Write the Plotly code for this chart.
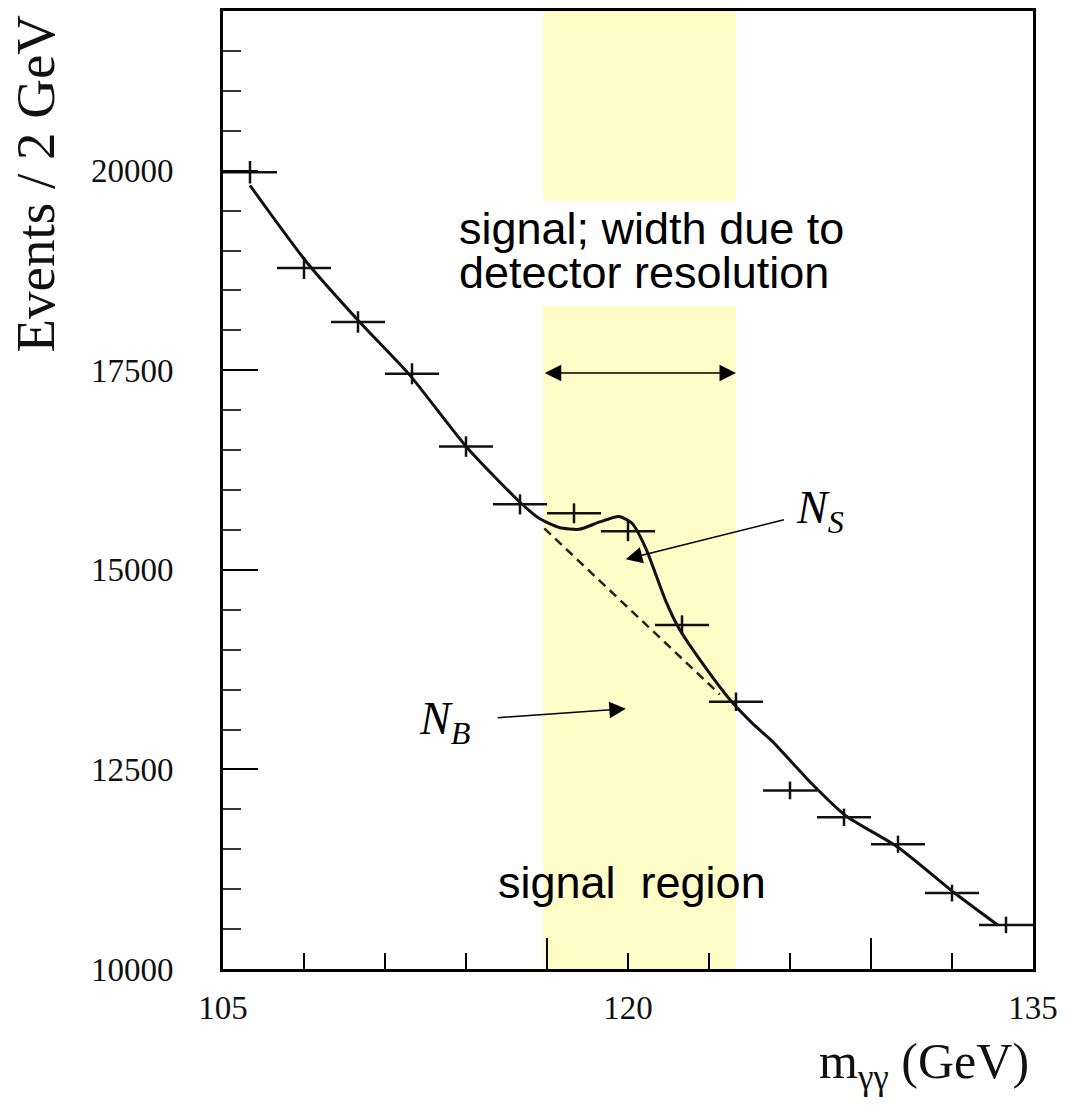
import plotly.graph_objects as go

# ---- data ----
bin_centers = [106, 108, 110, 112, 114, 116, 118, 120, 122, 124, 126, 128, 130, 132, 134]
events = [19980, 18780, 18105, 17456, 16544, 15820, 15708, 15483, 14310, 13348, 12237, 11900, 11563, 10951, 10552]
events_err = [141, 137, 135, 132, 129, 126, 125, 124, 120, 116, 111, 109, 108, 105, 103]
bin_half_width = [1, 1, 1, 1, 1, 1, 1, 1, 1, 1, 1, 1, 1, 1, 1]

fit_x = [106.0, 108.1, 110.06, 111.91, 114.01, 115.97, 116.71, 117.45, 118.19, 118.95, 119.67, 120.15,
         120.66, 121.40, 121.88, 122.88, 123.81, 124.6, 125.32, 126.80, 128.05, 130.01, 132.11, 133.70]
fit_y = [19815, 18853, 18104, 17442, 16543, 15856, 15645, 15530, 15507, 15600, 15669, 15583,
         15269, 14608, 14271, 13771, 13359, 13080, 12860, 12323, 11923, 11523, 10949, 10549]

bkg_x = [116.90, 123.40]
bkg_y = [15519, 13440]

signal_region = [116.86, 124.0]
band_gap = [18304, 19627]

x_range = [105, 135]
y_range = [10000, 22000]
y_major = [10000, 12500, 15000, 17500, 20000]
x_labels = [105, 120, 135]
x_tall_ticks = [117, 129]

fig = go.Figure()

# signal region band (with a gap for the label)
fig.add_shape(type="rect", xref="x", yref="y", x0=signal_region[0], x1=signal_region[1],
              y0=y_range[0], y1=band_gap[0], fillcolor="#FFFCC7", line_width=0, layer="below")
fig.add_shape(type="rect", xref="x", yref="y", x0=signal_region[0], x1=signal_region[1],
              y0=band_gap[1], y1=y_range[1], fillcolor="#FFFCC7", line_width=0, layer="below")

# background (dashed)
fig.add_trace(go.Scatter(x=bkg_x, y=bkg_y, mode="lines", xaxis="x2",
                         line=dict(color="#222", width=2.5, dash="9px,6px"), showlegend=False,
                         hoverinfo="skip"))
# signal + background fit
fig.add_trace(go.Scatter(x=fit_x, y=fit_y, mode="lines",
                         line=dict(color="#111", width=3, shape="spline", smoothing=0.6),
                         showlegend=False))
# data points
fig.add_trace(go.Scatter(x=bin_centers, y=events, mode="markers",
                         marker=dict(size=1, color="black", opacity=0),
                         error_x=dict(type="data", array=bin_half_width, width=0, thickness=2.5, color="#111"),
                         error_y=dict(type="data", array=events_err, width=0, thickness=2.5, color="#111"),
                         showlegend=False))

serif = "Liberation Serif"
sans = "Liberation Sans"

fig.update_layout(
    width=1066, height=1106,
    margin=dict(l=223, r=31, t=8, b=137),
    paper_bgcolor="white", plot_bgcolor="white",
    xaxis=dict(range=x_range, showline=True, linewidth=3, linecolor="black", mirror=True,
               showgrid=False, zeroline=False, ticks="inside", ticklen=16, tickwidth=2,
               tickcolor="black", tickmode="array", tickvals=x_labels,
               ticktext=[str(v) for v in x_labels], ticklabelstandoff=7,
               tickfont=dict(family=serif, size=33, color="#111"),
               minor=dict(tick0=105, dtick=3, ticks="inside", ticklen=16, tickwidth=2, tickcolor="black",
                          showgrid=False)),
    xaxis2=dict(range=x_range, overlaying="x", matches="x", side="bottom", showline=False,
                showgrid=False, zeroline=False, ticks="inside", ticklen=31, tickwidth=2,
                tickcolor="black", tickmode="array", tickvals=x_tall_ticks, showticklabels=False),
    yaxis=dict(range=y_range, showline=True, linewidth=3, linecolor="black", mirror=True,
               showgrid=False, zeroline=False, ticks="inside", ticklen=35, tickwidth=2,
               tickcolor="black", tickmode="array", tickvals=y_major,
               ticktext=[str(v) for v in y_major], ticklabelstandoff=40,
               tickfont=dict(family=serif, size=33, color="#111"),
               minor=dict(dtick=500, tick0=10000, ticks="inside", ticklen=18, tickwidth=2,
                          tickcolor="#333", showgrid=False)),
)

ann = []
# axis titles
ann.append(dict(text="Events / 2 GeV", xref="paper", yref="paper", x=-0.232, y=0.82,
                textangle=-90, showarrow=False, xanchor="center", yanchor="middle",
                font=dict(family=serif, size=55, color="#111")))
ann.append(dict(text="m<sub>γγ</sub> (GeV)", xref="paper", yref="paper", x=0.998, y=-0.10,
                showarrow=False, xanchor="right", yanchor="middle",
                font=dict(family=serif, size=50, color="#111")))
# text labels
ann.append(dict(text="signal; width due to", xref="x", yref="y", x=113.68, y=19270,
                showarrow=False, xanchor="left", yanchor="middle",
                font=dict(family=sans, size=45, color="black")))
ann.append(dict(text="detector resolution", xref="x", yref="y", x=113.68, y=18720,
                showarrow=False, xanchor="left", yanchor="middle",
                font=dict(family=sans, size=45, color="black")))
ann.append(dict(text="signal\u00a0\u00a0region", xref="x", yref="y", x=120.15, y=11080,
                showarrow=False, xanchor="center", yanchor="middle",
                font=dict(family=sans, size=45, color="black")))
ann.append(dict(text="<i>N</i><sub><i>S</i></sub>", xref="x", yref="y", x=127.1, y=15740,
                showarrow=False, xanchor="center", yanchor="middle",
                font=dict(family=serif, size=46, color="black")))
ann.append(dict(text="<i>N</i><sub><i>B</i></sub>", xref="x", yref="y", x=113.2, y=13100,
                showarrow=False, xanchor="center", yanchor="middle",
                font=dict(family=serif, size=46, color="black")))
# arrows
ann.append(dict(text="", x=119.92, y=15132, ax=125.83, ay=15632, xref="x", yref="y",
                axref="x", ayref="y", showarrow=True, arrowhead=2, arrowsize=2.2, arrowwidth=1.5,
                arrowcolor="black", standoff=0, startstandoff=0))
ann.append(dict(text="", x=119.92, y=13259, ax=115.12, ay=13147, xref="x", yref="y",
                axref="x", ayref="y", showarrow=True, arrowhead=2, arrowsize=2.2, arrowwidth=1.5,
                arrowcolor="black", standoff=0, startstandoff=0))
ann.append(dict(text="", x=signal_region[1], y=17467, ax=signal_region[0], ay=17467, xref="x", yref="y",
                axref="x", ayref="y", showarrow=True, arrowhead=2, startarrowhead=2,
                arrowside="end+start", arrowsize=2.2, startarrowsize=2.2, arrowwidth=1.5,
                arrowcolor="black", standoff=0, startstandoff=0))
fig.update_layout(annotations=ann)

fig.write_html("out.html")
